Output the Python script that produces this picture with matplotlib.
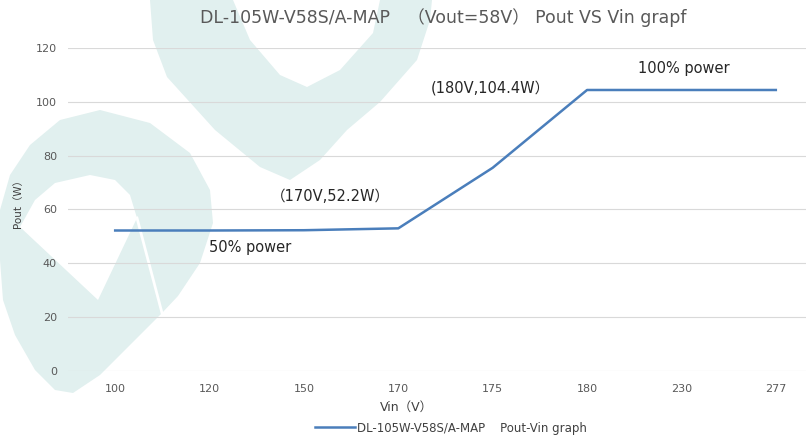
import matplotlib
matplotlib.use("Agg")
import matplotlib.pyplot as plt
from matplotlib.patches import Polygon

plt.rcParams['font.family'] = ['DejaVu Sans', 'Noto Sans CJK SC']

# data
vin_labels = ['100', '120', '150', '170', '175', '180', '230', '277']
pout = [52.2, 52.2, 52.3, 53.0, 75.5, 104.4, 104.4, 104.4]
y_ticks = [0, 20, 40, 60, 80, 100, 120]

W, H = 806, 436
fig = plt.figure(figsize=(W / 100, H / 100), dpi=100)


def fp(pts):
    # pixel coords (y down) -> figure fraction
    return [(x / W, 1 - y / H) for x, y in pts]


teal = '#e1f0ef'
# background logo watermark
left_logo = [(100, 110), (150, 123), (190, 153), (210, 190), (213, 223), (200, 263),
             (178, 296), (162, 313), (130, 345), (100, 375), (73, 393), (55, 390),
             (35, 370), (15, 335), (3, 300), (0, 260), (0, 210), (10, 175),
             (30, 145), (60, 120)]
shield = [(20, 227), (35, 200), (55, 183), (90, 175), (115, 180), (130, 195),
          (137, 218), (98, 300)]
top_logo = [(150, 0), (153, 40), (167, 77), (215, 130), (260, 167), (290, 180),
            (320, 160), (347, 130), (380, 102), (417, 60), (430, 20), (432, 0),
            (380, 0), (373, 33), (340, 70), (307, 87), (280, 75), (250, 40), (233, 0)]
for pts, col in [(left_logo, teal), (shield, 'white'), (top_logo, teal)]:
    fig.patches.append(Polygon(fp(pts), closed=True, transform=fig.transFigure,
                               facecolor=col, edgecolor='none', zorder=-2))
fig.lines.append(plt.Line2D([137 / W, 162 / W], [1 - 218 / H, 1 - 313 / H],
                            transform=fig.transFigure, color='white', lw=2, zorder=-1))

ax = fig.add_axes([68 / W, 1 - 371 / H, (823 - 68) / W, (371 - 48) / H])
ax.set_zorder(1)
ax.set_facecolor('none')
x = range(len(vin_labels))
ax.plot(x, pout, color='#4a7ebb', lw=1.8, solid_joinstyle='round',
        label='DL-105W-V58S/A-MAP    Pout-Vin graph', zorder=3)

ax.set_xlim(-0.5, len(vin_labels) - 0.5)
ax.set_ylim(0, 120)
ax.set_yticks(y_ticks)
ax.set_xticks(list(x))
ax.set_xticklabels(vin_labels)
ax.grid(axis='y', color='#d9d9d9', lw=0.8)
ax.set_axisbelow(True)
for s in ax.spines.values():
    s.set_visible(False)
ax.tick_params(length=0, colors='#595959', labelsize=8)
ax.tick_params(axis='x', pad=9)
ax.tick_params(axis='y', pad=8)

txt = '#262626'
ax.text(2.28, 64.7, '（170V,52.2W）', ha='center', va='center', fontsize=10.5, color=txt)
ax.text(1.43, 46.0, '50% power', ha='center', va='center', fontsize=10.5, color=txt)
ax.text(3.98, 105.2, '(180V,104.4W）', ha='center', va='center', fontsize=10.5, color=txt)
ax.text(6.02, 112.3, '100% power', ha='center', va='center', fontsize=10.5, color=txt)

fig.text(443 / W, 1 - 18 / H, 'DL-105W-V58S/A-MAP　（Vout=58V） Pout VS Vin grapf',
         ha='center', va='center', fontsize=12.5, color='#595959')
fig.text(406 / W, 1 - 407 / H, 'Vin（V）', ha='center', va='center', fontsize=9, color='#404040')
fig.text(18 / W, 1 - 201 / H, 'Pout（W）', ha='center', va='center', rotation=90,
         fontsize=7.5, color='#404040')

fig.legend(loc='center', bbox_to_anchor=(451 / W, 1 - 428 / H), frameon=False,
           fontsize=8.5, handlelength=3.4, handletextpad=0.2, labelcolor='#404040')

fig.savefig('out.png', dpi=100)
